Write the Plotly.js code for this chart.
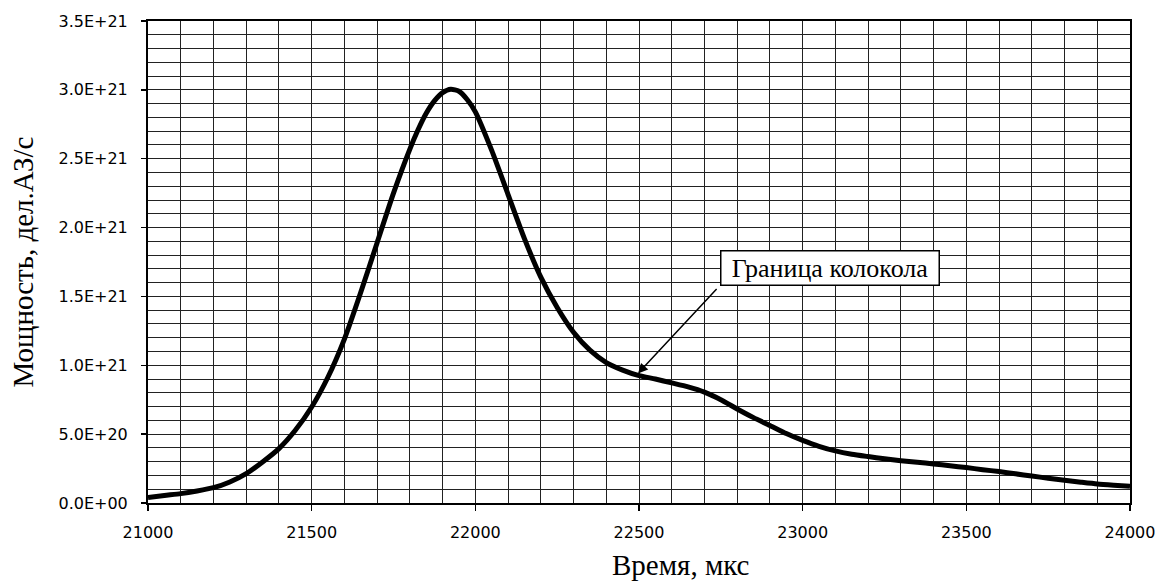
<!DOCTYPE html>
<html>
<head>
<meta charset="utf-8">
<script src="https://cdn.plot.ly/plotly-3.0.1.min.js"></script>
<style>
  html, body { margin: 0; padding: 0; background: #fff; }
  #chart { width: 1157px; height: 581px; }
</style>
</head>
<body>
<div id="chart"></div>
<script>
// Time, µs
var timeUs = [
  21000, 21050, 21100, 21150, 21200, 21250, 21300, 21350, 21400, 21450,
  21500, 21550, 21600, 21650, 21700, 21750, 21800, 21825, 21850, 21875,
  21900, 21925, 21950, 21975, 22000, 22050, 22100, 22150, 22200, 22250,
  22300, 22350, 22400, 22450, 22500, 22550, 22600, 22650, 22700, 22750,
  22800, 22850, 22900, 22950, 23000, 23050, 23100, 23150, 23200, 23250,
  23300, 23350, 23400, 23450, 23500, 23550, 23600, 23650, 23700, 23750,
  23800, 23850, 23900, 23950, 24000
];
// Power, div.AZ/s
var power = [
  0.040e21, 0.055e21, 0.068e21, 0.087e21, 0.111e21, 0.153e21, 0.213e21, 0.298e21, 0.395e21, 0.528e21,
  0.697e21, 0.915e21, 1.19e21, 1.53e21, 1.89e21, 2.25e21, 2.57e21, 2.71e21, 2.83e21, 2.92e21,
  2.98e21, 3.005e21, 2.99e21, 2.93e21, 2.84e21, 2.56e21, 2.24e21, 1.92e21, 1.64e21, 1.42e21,
  1.24e21, 1.11e21, 1.02e21, 0.965e21, 0.925e21, 0.90e21, 0.872e21, 0.843e21, 0.805e21, 0.75e21,
  0.683e21, 0.62e21, 0.563e21, 0.504e21, 0.455e21, 0.412e21, 0.378e21, 0.354e21, 0.337e21, 0.321e21,
  0.307e21, 0.296e21, 0.284e21, 0.27e21, 0.257e21, 0.242e21, 0.228e21, 0.212e21, 0.196e21, 0.18e21,
  0.165e21, 0.151e21, 0.138e21, 0.129e21, 0.121e21
];
var xTickVals = [21000, 21500, 22000, 22500, 23000, 23500, 24000];
var xTickText = ['21000', '21500', '22000', '22500', '23000', '23500', '24000'];
var yTickVals = [0, 5e20, 1e21, 1.5e21, 2e21, 2.5e21, 3e21, 3.5e21];
var yTickText = ['0.0E+00', '5.0E+20', '1.0E+21', '1.5E+21', '2.0E+21', '2.5E+21', '3.0E+21', '3.5E+21'];
var xTitle = 'Время, мкс';
var yTitle = 'Мощность, дел.АЗ/с';
var calloutText = 'Граница колокола';
var calloutPoint = [22497, 0.941e21];
var calloutBox = [23083, 1.703e21];

var serif = '"Liberation Serif", "Times New Roman", "DejaVu Serif", serif';

var trace = {
  x: timeUs,
  y: power,
  type: 'scatter',
  mode: 'lines',
  line: { color: '#000', width: 5, shape: 'spline', smoothing: 0.6 },
  hoverinfo: 'x+y',
  showlegend: false
};

var gridCol = '#222';
var layout = {
  width: 1157,
  height: 581,
  margin: { l: 148, r: 27, t: 21, b: 78, pad: 0 },
  paper_bgcolor: '#fff',
  plot_bgcolor: '#fff',
  font: { family: '"DejaVu Sans", "Liberation Sans", Arial, sans-serif', color: '#000', size: 16 },
  xaxis: {
    range: [21000, 24000],
    tickmode: 'array',
    tickvals: xTickVals,
    ticktext: xTickText,
    ticks: 'outside',
    ticklen: 6,
    tickwidth: 1.5,
    tickcolor: '#000',
    showline: true,
    linecolor: '#000',
    linewidth: 2,
    mirror: true,
    showgrid: true,
    gridcolor: gridCol,
    gridwidth: 1,
    zeroline: false,
    minor: { tickmode: 'linear', tick0: 21000, dtick: 100, showgrid: true, gridcolor: gridCol, gridwidth: 1, ticks: '' },
    tickfont: { family: '"DejaVu Sans", sans-serif', size: 16, color: '#000' },
    ticklabelstandoff: 8,
    fixedrange: true
  },
  yaxis: {
    range: [0, 3.5e21],
    tickmode: 'array',
    tickvals: yTickVals,
    ticktext: yTickText,
    ticks: 'outside',
    ticklen: 5,
    tickwidth: 1.5,
    tickcolor: '#000',
    showline: true,
    linecolor: '#000',
    linewidth: 2,
    mirror: true,
    showgrid: true,
    gridcolor: gridCol,
    gridwidth: 1,
    zeroline: false,
    minor: { tickmode: 'linear', tick0: 0, dtick: 1e20, showgrid: true, gridcolor: gridCol, gridwidth: 1, ticks: '' },
    tickfont: { family: '"DejaVu Sans", sans-serif', size: 16, color: '#000' },
    ticklabelstandoff: 10,
    title: { text: yTitle, font: { family: serif, size: 29, color: '#000' }, standoff: 16 },
    fixedrange: true
  },
  annotations: [
    {
      xref: 'paper', yref: 'paper',
      x: 0.5428, y: -0.128,
      xanchor: 'center', yanchor: 'middle',
      text: xTitle,
      showarrow: false,
      font: { family: serif, size: 29, color: '#000' }
    },
    {
      xref: 'x', yref: 'y',
      x: calloutPoint[0], y: calloutPoint[1],
      text: '',
      showarrow: true,
      axref: 'pixel', ayref: 'pixel',
      ax: 80, ay: -86,
      arrowhead: 2,
      arrowsize: 1.3,
      arrowwidth: 1.5,
      arrowcolor: '#000',
      standoff: 0,
      startstandoff: 0
    },
    {
      xref: 'x', yref: 'y',
      x: calloutBox[0], y: calloutBox[1],
      xanchor: 'center', yanchor: 'middle',
      text: calloutText,
      showarrow: false,
      bgcolor: '#fff',
      bordercolor: '#000',
      borderwidth: 1.5,
      borderpad: 0,
      width: 217,
      height: 33,
      font: { family: serif, size: 26, color: '#000' }
    }
  ]
};

Plotly.newPlot('chart', [trace], layout, { displayModeBar: false, staticPlot: true });
</script>
</body>
</html>
